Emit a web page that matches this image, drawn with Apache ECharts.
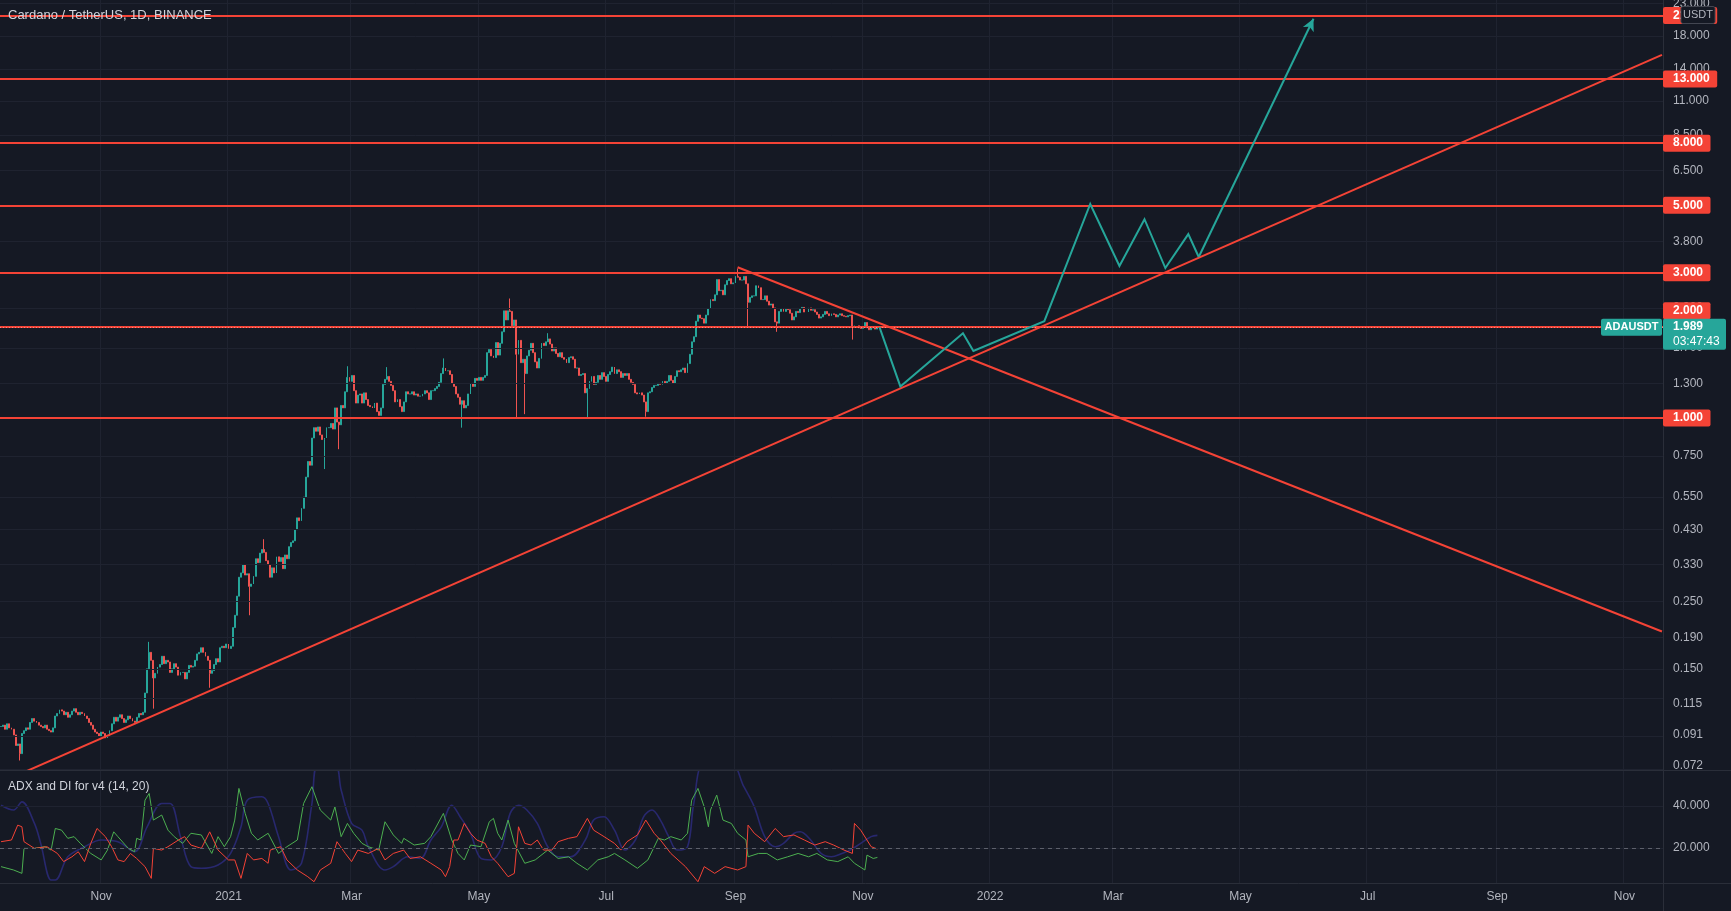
<!DOCTYPE html>
<html><head><meta charset="utf-8">
<script src="https://cdn.jsdelivr.net/npm/echarts/dist/echarts.min.js"></script>
<style>html,body{margin:0;padding:0;background:#151924;overflow:hidden}#c{width:1731px;height:911px}</style>
</head><body><div id="c"></div>
<script>
// ---------------- DATA ----------------
const firstOpen = 0.097;
const close2020Sep = [0.097,0.098,0.095,0.099,0.096,0.095,0.091,0.084,0.085,0.079,0.092,0.094,0.096,0.095,0.100,0.103,0.101];
const close2020Oct = [0.100,0.098,0.097,0.096,0.098,0.095,0.094,0.093,0.096,0.105,0.107,0.110,0.109,0.106,0.108,0.104,0.106,0.109,0.111,0.108,0.106,0.108,0.107,0.105,0.103,0.100,0.098,0.095,0.093,0.092,0.090];
const close2020Nov = [0.093,0.092,0.089,0.090,0.094,0.099,0.104,0.101,0.104,0.106,0.103,0.100,0.102,0.105,0.103,0.101,0.100,0.104,0.107,0.106,0.108,0.125,0.150,0.170,0.160,0.140,0.145,0.152,0.155,0.165];
const close2020Dec = [0.156,0.160,0.158,0.146,0.150,0.156,0.152,0.143,0.146,0.146,0.139,0.146,0.154,0.152,0.153,0.160,0.168,0.170,0.176,0.170,0.165,0.160,0.145,0.148,0.155,0.162,0.158,0.176,0.178,0.176,0.181];
const close2021Jan = [0.175,0.178,0.205,0.225,0.260,0.300,0.310,0.330,0.305,0.308,0.280,0.285,0.302,0.345,0.335,0.360,0.370,0.362,0.340,0.330,0.300,0.322,0.310,0.350,0.338,0.348,0.320,0.355,0.345,0.378,0.390];
const close2021Feb = [0.395,0.430,0.470,0.460,0.505,0.550,0.640,0.720,0.700,0.860,0.930,0.905,0.935,0.880,0.850,0.860,0.930,0.930,0.960,0.920,1.080,0.970,0.950,1.100,1.080,1.220,1.360,1.320];
const close2021Mar = [1.380,1.230,1.120,1.190,1.200,1.120,1.210,1.150,1.100,1.090,1.080,1.120,1.050,1.020,1.080,1.290,1.340,1.370,1.320,1.280,1.230,1.130,1.150,1.090,1.050,1.130,1.220,1.200,1.200,1.220,1.190];
const close2021Apr = [1.200,1.180,1.180,1.200,1.230,1.210,1.150,1.230,1.230,1.250,1.270,1.310,1.400,1.460,1.430,1.430,1.390,1.300,1.270,1.200,1.170,1.110,1.140,1.080,1.100,1.200,1.300,1.270,1.350,1.330];
const close2021May = [1.360,1.330,1.360,1.380,1.640,1.680,1.600,1.580,1.770,1.610,1.760,1.920,2.250,2.100,2.250,2.240,2.010,2.100,1.620,1.800,1.520,1.560,1.400,1.600,1.670,1.760,1.640,1.530,1.460,1.570,1.760];
const close2021Jun = [1.730,1.780,1.820,1.750,1.660,1.700,1.630,1.590,1.640,1.580,1.560,1.520,1.580,1.590,1.560,1.460,1.460,1.380,1.390,1.400,1.210,1.250,1.320,1.370,1.290,1.310,1.380,1.340,1.410,1.370];
const close2021Jul = [1.320,1.390,1.420,1.470,1.400,1.440,1.420,1.360,1.400,1.380,1.400,1.340,1.310,1.290,1.210,1.200,1.210,1.190,1.130,1.050,1.210,1.220,1.260,1.280,1.280,1.300,1.290,1.320,1.300,1.320,1.380];
const close2021Aug = [1.330,1.300,1.370,1.430,1.420,1.440,1.460,1.410,1.510,1.620,1.780,1.850,2.080,2.180,2.130,2.120,2.050,2.180,2.290,2.450,2.430,2.540,2.850,2.620,2.630,2.540,2.740,2.830,2.870,2.760,2.780];
const close2021Sep = [2.920,2.900,2.840,2.840,2.920,2.760,2.400,2.490,2.520,2.520,2.720,2.680,2.450,2.450,2.520,2.420,2.350,2.370,2.300,2.070,2.050,2.240,2.280,2.240,2.280,2.270,2.210,2.100,2.150,2.240];
const close2021Oct = [2.220,2.290,2.310,2.230,2.230,2.300,2.260,2.270,2.230,2.190,2.130,2.150,2.190,2.240,2.200,2.170,2.200,2.190,2.150,2.180,2.200,2.170,2.160,2.150,2.170,2.180,2.000,2.010,2.010,1.980,1.970];
const close2021Nov = [1.990,2.060,1.980,1.950,1.980,1.980,1.960,1.989];
const monthBlocks = [['2020-09-14',close2020Sep],['2020-10-01',close2020Oct],['2020-11-01',close2020Nov],['2020-12-01',close2020Dec],
  ['2021-01-01',close2021Jan],['2021-02-01',close2021Feb],['2021-03-01',close2021Mar],['2021-04-01',close2021Apr],['2021-05-01',close2021May],
  ['2021-06-01',close2021Jun],['2021-07-01',close2021Jul],['2021-08-01',close2021Aug],['2021-09-01',close2021Sep],['2021-10-01',close2021Oct],['2021-11-01',close2021Nov]];
// notable wicks: [date, high, low]
const wicks = [['2020-09-23',null,0.075],['2020-11-24',0.184,null],['2020-11-26',null,0.111],['2020-12-23',null,0.130],['2021-01-11',null,0.225],
  ['2021-01-18',0.400,null],['2021-02-16',null,0.68],['2021-02-23',null,0.79],['2021-02-27',1.48,null],['2021-03-18',1.47,null],['2021-04-14',1.57,null],
  ['2021-04-23',null,0.93],['2021-05-16',2.47,null],['2021-05-19',null,1.00],['2021-05-23',null,1.03],['2021-06-03',1.90,null],['2021-06-22',null,1.00],
  ['2021-07-20',null,1.01],['2021-09-02',3.10,null],['2021-09-07',null,2.00],['2021-09-21',null,1.92],['2021-10-27',null,1.81]];

const lastPrice = 1.989;
const levels = [21, 13, 8, 5, 3, 2, 1];
const priceTicks = [23,18,14,11,8.5,6.5,5,3.8,3,2.3,1.7,1.3,1,0.75,0.55,0.43,0.33,0.25,0.19,0.15,0.115,0.091,0.072];
const adxTicks = [40, 20];
const monthNames = ['Jan','Feb','Mar','Apr','May','Jun','Jul','Aug','Sep','Oct','Nov','Dec'];
const supportLine = [['2020-09-14',0.0636],['2022-11-19',15.6]];
const resistLine = [['2021-09-02',3.13],['2022-11-19',0.199]];
const projPath = [['2021-11-09',1.99],['2021-11-19',1.27],['2021-12-19',1.90],['2021-12-24',1.66],['2022-01-27',2.08],['2022-02-18',5.05],
  ['2022-03-04',3.16],['2022-03-16',4.5],['2022-03-26',3.11],['2022-04-06',4.02],['2022-04-11',3.38]];
const projArrowEnd = ['2022-06-05',20.5];

// ADX pane: [day offset from 2020-09-14, value]
const adxLine = [[0,40.4],[6,38.1],[10,42.0],[16,31.7],[19,22.2],[24,4.7],[26,4.7],[32,15.8],[40,20.6],[48,23.8],[56,23.0],[64,18.2],[70,30.1],[77,41.2],[81,41.2],[86,25.4],[91,11.1],[96,10.3],[104,11.9],[110,17.4],[115,30.1],[118,42.8],[125,44.4],[128,41.2],[133,25.4],[139,9.5],[144,12.7],[149,41.2],[152,60],[160,60],[163,47.6],[168,31.7],[173,28.5],[176,20.6],[184,9.5],[188,11.1],[195,15.8],[201,15.0],[206,23.8],[211,30.1],[216,40.4],[220,34.9],[225,27.0],[230,15.0],[235,14.3],[240,20.6],[244,36.5],[248,40.4],[252,38.1],[257,31.7],[262,20.6],[267,15.8],[273,15.8],[280,23.8],[284,33.3],[289,34.9],[294,28.5],[299,19.0],[304,23.8],[308,34.9],[312,38.1],[316,33.3],[320,25.4],[324,19.0],[329,20.6],[332,41.2],[337,60],[350,60],[356,49.2],[361,39.6],[366,25.4],[371,20.6],[375,22.2],[380,27.0],[383,27.7],[388,23.8],[393,17.4],[398,15.8],[403,17.4],[407,19.0],[412,22.2],[417,25.4],[420,26.0]];
const plusDI = [[0,11.1],[6,9.5],[10,7.9],[11,19.8],[16,19.8],[21,20.6],[24,19.0],[26,29.3],[29,28.5],[32,24.6],[35,25.4],[38,22.2],[43,17.4],[48,14.3],[51,19.0],[54,27.7],[56,25.4],[61,19.8],[64,18.2],[65,24.6],[67,23.8],[69,42.8],[71,46.0],[73,33.3],[77,35.7],[80,28.5],[83,25.4],[87,22.2],[91,27.0],[96,26.2],[101,17.4],[104,25.4],[107,20.6],[110,25.4],[112,33.3],[114,48.4],[117,36.5],[120,27.0],[123,23.8],[128,27.0],[133,17.4],[137,20.6],[142,23.8],[145,41.2],[149,49.2],[153,38.1],[158,33.3],[160,39.6],[163,25.4],[166,31.7],[169,27.0],[173,22.2],[176,20.6],[181,19.0],[184,32.5],[188,26.2],[192,22.2],[193,24.6],[198,21.4],[203,22.2],[206,25.4],[212,36.5],[216,23.8],[219,17.4],[222,14.3],[225,21.4],[230,20.6],[234,32.5],[236,34.1],[238,27.0],[240,23.8],[243,33.3],[246,22.2],[251,12.7],[256,14.3],[262,19.0],[267,15.0],[272,15.8],[276,12.7],[281,9.5],[286,14.3],[291,15.8],[294,17.4],[299,14.3],[305,10.3],[310,14.3],[315,24.6],[318,23.8],[321,25.4],[326,23.8],[329,27.0],[331,42.8],[334,48.4],[337,39.6],[339,30.1],[340,38.1],[343,45.2],[346,33.3],[350,31.7],[353,27.0],[357,23.8],[358,15.8],[363,17.4],[367,17.4],[372,14.3],[377,15.8],[382,17.4],[387,15.8],[391,17.4],[396,14.3],[401,13.5],[406,15.8],[409,12.7],[414,9.5],[415,16.6],[418,15.0],[420,15.5]];
const minusDI = [[0,23.0],[5,23.8],[8,30.9],[10,30.1],[11,23.0],[16,19.8],[22,20.6],[27,17.4],[30,13.5],[34,15.8],[37,18.2],[40,13.5],[43,22.2],[46,29.3],[50,25.4],[53,20.6],[56,14.3],[59,13.5],[62,17.4],[65,15.0],[69,11.1],[72,5.5],[73,19.8],[77,19.0],[80,20.6],[85,23.8],[88,25.4],[91,21.4],[96,19.8],[100,27.7],[104,19.0],[109,14.3],[112,14.3],[115,5.5],[118,17.4],[121,14.3],[125,15.0],[128,12.7],[129,19.0],[134,20.6],[137,14.3],[142,9.5],[147,6.3],[150,3.9],[153,9.5],[158,12.7],[161,23.0],[165,17.4],[168,13.5],[171,19.0],[176,17.4],[181,19.8],[184,14.3],[188,17.4],[193,19.0],[196,15.0],[201,15.8],[206,12.7],[211,9.5],[213,6.3],[215,11.1],[217,23.8],[219,23.8],[222,31.7],[225,27.0],[228,23.8],[232,22.2],[235,15.8],[238,12.7],[243,6.3],[246,7.9],[248,30.1],[251,22.2],[254,21.4],[257,23.8],[260,19.0],[264,19.0],[267,23.0],[272,24.6],[276,25.4],[281,34.1],[284,28.5],[289,25.4],[294,22.2],[297,19.0],[300,23.0],[305,26.2],[309,33.3],[313,27.0],[316,23.8],[321,17.4],[328,11.1],[334,3.9],[337,11.1],[342,7.9],[347,11.1],[353,9.5],[357,11.1],[358,30.9],[361,27.0],[366,23.0],[371,29.3],[375,25.4],[380,26.2],[385,23.8],[390,21.4],[395,23.0],[399,21.4],[404,19.0],[408,17.4],[409,31.7],[412,28.5],[417,20.6],[420,19.5]];

// ---------------- BUILD ----------------
const DAY = 86400000, START = Date.UTC(2020, 8, 14), N_DAYS = 797;
const categories = [];
for (let i = 0; i < N_DAYS; i++) categories.push(new Date(START + i * DAY).toISOString().slice(0, 10));
const dayOf = s => Math.round((Date.parse(s + 'T00:00:00Z') - START) / DAY);

const closes = [];
monthBlocks.forEach(([s, arr]) => { const d0 = dayOf(s); arr.forEach((v, i) => { closes[d0 + i] = v; }); });
const wHi = {}, wLo = {};
wicks.forEach(([s, h, l]) => { const d = dayOf(s); if (h != null) wHi[d] = h; if (l != null) wLo[d] = l; });
const candleData = closes.map((c, d) => {
  const o = d === 0 ? firstOpen : closes[d - 1];
  const hi = Math.max(o, c, wHi[d] != null ? wHi[d] : 0);
  const lo = Math.min(o, c, wLo[d] != null ? wLo[d] : Infinity);
  return [o, c, lo, hi];
});

const isTick = (idx, val) => { const v = val || categories[idx]; return v.slice(8) === '01' && (+v.slice(5, 7)) % 2 === 1; };
const fmtTick = val => { const m = +val.slice(5, 7); return m === 1 ? val.slice(0, 4) : monthNames[m - 1]; };

const BG = '#151924', GRID = '#1f2330', RED = '#f44336', TEAL = '#26a69a', UP = '#26a69a', DOWN = '#ef5350';
const FONT = '"Liberation Sans", Arial, sans-serif';
const priceMin = 0.0698, priceMax = 23.62;

const chart = echarts.init(document.getElementById('c'), null, {renderer: 'canvas'});
const hidden = {show: false};
const option = {
  backgroundColor: BG,
  animation: false,
  grid: [
    {left: 0, top: 0, width: 1663, height: 770, show: false, outerBoundsMode: 'none'},
    {left: 0, top: 771, width: 1663, height: 112, show: false, outerBoundsMode: 'none'}
  ],
  xAxis: [
    {type: 'category', gridIndex: 0, data: categories, boundaryGap: true, axisLine: hidden, axisTick: hidden, axisLabel: hidden,
      splitLine: {show: true, interval: isTick, lineStyle: {color: GRID, width: 1}}},
    {type: 'category', gridIndex: 1, data: categories, boundaryGap: true, axisLine: hidden, axisTick: hidden,
      axisLabel: {show: true, interval: isTick, formatter: fmtTick, color: '#b2b5be', fontSize: 12, fontFamily: FONT, margin: 8},
      splitLine: {show: true, interval: isTick, lineStyle: {color: GRID, width: 1}}}
  ],
  yAxis: [
    {type: 'log', gridIndex: 0, min: priceMin, max: priceMax, show: false, splitLine: hidden},
    {type: 'value', gridIndex: 1, min: 3.3, max: 56.7, show: false, splitLine: hidden}
  ],
  series: [
    {type: 'line', xAxisIndex: 0, yAxisIndex: 0, data: [[categories[0], 1]], symbol: 'none', lineStyle: {opacity: 0}, silent: true, z: 1,
      markLine: {silent: true, symbol: ['none', 'none'], label: hidden, lineStyle: {color: GRID, width: 1, type: 'solid'}, data: priceTicks.map(v => ({yAxis: v}))}},
    {type: 'candlestick', xAxisIndex: 0, yAxisIndex: 0, data: candleData, barWidth: 1.4, z: 2,
      itemStyle: {color: UP, color0: DOWN, borderColor: UP, borderColor0: DOWN, borderWidth: 1}},
    {type: 'line', xAxisIndex: 0, yAxisIndex: 0, data: [[categories[0], 1]], symbol: 'none', lineStyle: {opacity: 0}, silent: true, z: 3,
      markLine: {silent: true, symbol: ['none', 'none'], label: hidden, lineStyle: {color: RED, width: 2, type: 'solid'}, data: levels.map(v => ({yAxis: v}))}},
    {type: 'line', xAxisIndex: 0, yAxisIndex: 0, data: [[categories[0], 1]], symbol: 'none', lineStyle: {opacity: 0}, silent: true, z: 4,
      markLine: {silent: true, symbol: ['none', 'none'], label: hidden, lineStyle: {color: '#e8eaee', opacity: 0.45, width: 1, type: [1, 2]}, data: [{yAxis: lastPrice}]}},
    {type: 'line', xAxisIndex: 0, yAxisIndex: 0, data: supportLine, symbol: 'none', lineStyle: {color: RED, width: 2}, silent: true, z: 5},
    {type: 'line', xAxisIndex: 0, yAxisIndex: 0, data: resistLine, symbol: 'none', lineStyle: {color: RED, width: 2}, silent: true, z: 5},
    {type: 'line', xAxisIndex: 0, yAxisIndex: 0, data: projPath, symbol: 'none', lineStyle: {color: TEAL, width: 2, join: 'miter'}, silent: true, z: 6,
      markLine: {silent: true, symbol: ['none', 'arrow'], symbolSize: [9, 12], label: hidden, lineStyle: {color: TEAL, width: 2, type: 'solid'},
        data: [[{coord: projPath[projPath.length - 1]}, {coord: projArrowEnd}]]}},
    // ADX pane
    {type: 'line', xAxisIndex: 1, yAxisIndex: 1, data: [[0, 20]], symbol: 'none', lineStyle: {opacity: 0}, silent: true, z: 1,
      markLine: {silent: true, symbol: ['none', 'none'], label: hidden, lineStyle: {color: GRID, width: 1, type: 'solid'}, data: adxTicks.map(v => ({yAxis: v}))}},
    {type: 'line', xAxisIndex: 1, yAxisIndex: 1, data: [[0, 20]], symbol: 'none', lineStyle: {opacity: 0}, silent: true, z: 2,
      markLine: {silent: true, symbol: ['none', 'none'], label: hidden, lineStyle: {color: '#5d606b', width: 1, type: [4, 4]}, data: [{yAxis: 20}]}},
    {type: 'line', xAxisIndex: 1, yAxisIndex: 1, data: adxLine, symbol: 'none', smooth: 0.35, lineStyle: {color: '#28286e', width: 1.6}, silent: true, z: 3},
    {type: 'line', xAxisIndex: 1, yAxisIndex: 1, data: plusDI, symbol: 'none', lineStyle: {color: '#4caf50', width: 1}, silent: true, z: 4},
    {type: 'line', xAxisIndex: 1, yAxisIndex: 1, data: minusDI, symbol: 'none', lineStyle: {color: '#f44336', width: 1}, silent: true, z: 4}
  ]
};
chart.setOption(option);

// ---------------- OVERLAY LABELS (positioned through the axes) ----------------
const gfx = [];
let zc = 100;
const gLine = (x1, y1, x2, y2, color) => gfx.push({type: 'line', z: zc++, silent: true, shape: {x1, y1, x2, y2}, style: {stroke: color, lineWidth: 1}});
const gRect = (x, y, w, h, fill, stroke) => gfx.push({type: 'rect', z: zc++, silent: true, shape: {x, y, width: w, height: h, r: 2}, style: {fill, stroke: stroke || null, lineWidth: stroke ? 1 : 0}});
const gText = (x, y, t, fill, font, align) => gfx.push({type: 'text', z: zc++, silent: true, x, y, style: {text: t, fill, font, textAlign: align || 'left', textVerticalAlign: 'middle'}});
const py = v => chart.convertToPixel({yAxisIndex: 0}, v);
const ay = v => chart.convertToPixel({yAxisIndex: 1}, v);

gLine(0, 770.5, 1731, 770.5, '#2a2e39');
gLine(0, 883.5, 1731, 883.5, '#2a2e39');
gLine(1663.5, 0, 1663.5, 911, '#2a2e39');

priceTicks.forEach(v => gText(1673, py(v), v.toFixed(3), '#b2b5be', '12px ' + FONT));
adxTicks.forEach(v => gText(1673, ay(v), v.toFixed(3), '#b2b5be', '12px ' + FONT));

const pY = py(lastPrice);
levels.forEach(v => {
  let y = py(v);
  if (Math.abs(y - pY) < 18) y = pY - 16.5;
  const t = v.toFixed(3);
  gRect(1663, y - 8.5, 10 + t.length * 6.7 + 4, 17, RED);
  gText(1673, y, t, '#ffffff', 'bold 12px ' + FONT);
});
// last price label + symbol tag
gRect(1663, pY - 8.5, 63, 31, TEAL);
gText(1673, pY, lastPrice.toFixed(3), '#ffffff', 'bold 12px ' + FONT);
gText(1673, pY + 15, '03:47:43', '#ffffff', '12px ' + FONT);
gRect(1601, pY - 8.5, 61, 17, TEAL);
gText(1631.5, pY, 'ADAUSDT', '#ffffff', 'bold 11px ' + FONT, 'center');
// currency box
gRect(1681, 6.5, 34, 17, BG, '#434651');
gText(1698, 15, 'USDT', '#b2b5be', '11px ' + FONT, 'center');
// legends
gText(8, 15, 'Cardano / TetherUS, 1D, BINANCE', '#d1d4dc', '13px ' + FONT);
gText(8, 787, 'ADX and DI for v4 (14, 20)', '#d1d4dc', '12px ' + FONT);

chart.setOption({graphic: {elements: gfx}});
</script>
</body></html>
